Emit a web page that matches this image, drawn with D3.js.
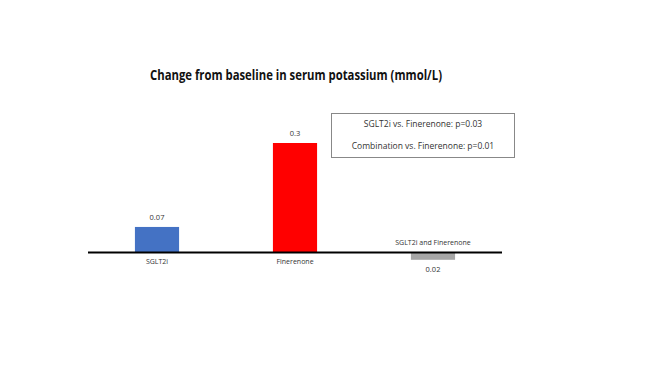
<!DOCTYPE html>
<html lang="en">
<head>
    <meta charset="UTF-8">
    <title>Serum potassium change</title>
    <script src="https://d3js.org/d3.v7.min.js"></script>
    <style>
        body { margin: 0; background: #fff; }
        text { font-family: "Open Sans", "Liberation Sans", sans-serif; fill: #333; }
        .title { font-weight: bold; fill: #111; }
    </style>
</head>
<body>
    <svg width="654" height="368"></svg>
    <script>
        // values
        const groups = ["SGLT2i", "Finerenone", "SGLT2i and Finerenone"];
        const changes = [0.07, 0.3, -0.02];
        const valueLabels = ["0.07", "0.3", "0.02"];
        const colors = ["#4472c4", "#ff0000", "#a6a6a6"];
        const notes = ["SGLT2i vs. Finerenone: p=0.03", "Combination vs. Finerenone: p=0.01"];

        const svg = d3.select("svg");

        const x = d3.scaleBand().domain(groups).range([88, 502]).paddingInner(0.68).paddingOuter(0.34);
        const y = d3.scaleLinear().domain([-0.1, 0.3]).range([289, 143]);

        svg.append("text")
            .attr("class", "title")
            .attr("x", 296).attr("y", 80)
            .attr("text-anchor", "middle")
            .attr("font-size", 13.5)
            .attr("textLength", 292).attr("lengthAdjust", "spacingAndGlyphs")
            .text("Change from baseline in serum potassium (mmol/L)");

        svg.selectAll("rect.bar")
            .data(changes)
            .enter().append("rect")
            .attr("class", "bar")
            .attr("x", (d, i) => x(groups[i]))
            .attr("width", x.bandwidth())
            .attr("y", d => y(Math.max(d, 0)))
            .attr("height", d => Math.abs(y(d) - y(0)))
            .attr("fill", (d, i) => colors[i]);

        // zero line
        svg.append("line")
            .attr("x1", 88).attr("x2", 502)
            .attr("y1", y(0)).attr("y2", y(0))
            .attr("stroke", "#000").attr("stroke-width", 2);

        // value labels
        svg.selectAll("text.val")
            .data(changes)
            .enter().append("text")
            .attr("class", "val")
            .attr("x", (d, i) => x(groups[i]) + x.bandwidth() / 2)
            .attr("y", d => d >= 0 ? y(d) - 7 : y(d) + 12)
            .attr("text-anchor", "middle")
            .attr("font-size", 7.5)
            .text((d, i) => valueLabels[i]);

        // category labels, below for positive bars, above for negative
        svg.selectAll("text.cat")
            .data(changes)
            .enter().append("text")
            .attr("class", "cat")
            .attr("x", (d, i) => x(groups[i]) + x.bandwidth() / 2)
            .attr("y", d => d >= 0 ? y(0) + 11 : y(0) - 8)
            .attr("text-anchor", "middle")
            .attr("font-size", 7)
            .text((d, i) => groups[i]);

        // p-value box
        svg.append("rect")
            .attr("x", 331.5).attr("y", 113.5)
            .attr("width", 183).attr("height", 44)
            .attr("fill", "#fff").attr("stroke", "#888").attr("stroke-width", 1);

        svg.selectAll("text.note")
            .data(notes)
            .enter().append("text")
            .attr("class", "note")
            .attr("x", 423)
            .attr("y", (d, i) => 127 + i * 22)
            .attr("text-anchor", "middle")
            .attr("font-size", 8.5)
            .text(d => d);
    </script>
</body>
</html>
